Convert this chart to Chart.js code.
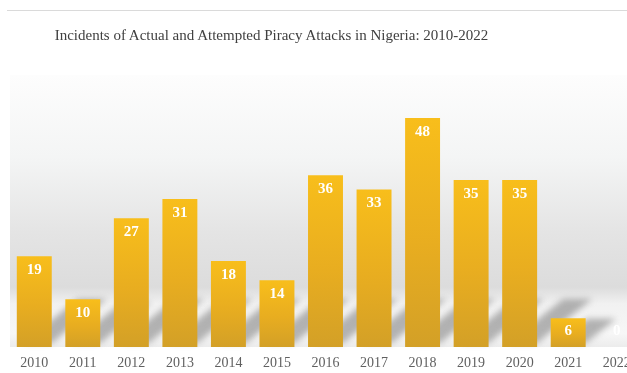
<!DOCTYPE html>
<html>
<head>
<meta charset="utf-8">
<script src="https://cdn.jsdelivr.net/npm/chart.js@4.4.1/dist/chart.umd.min.js"></script>
<style>
  html, body { margin: 0; padding: 0; background: #fff; overflow: hidden; }
  #wrap { position: relative; width: 627px; height: 373px; overflow: hidden; }
  #rule { position: absolute; left: 7px; right: 0; top: 10px; height: 1px; background: #dadada; }
  #title {
    position: absolute; left: 0; width: 543px; top: 27px; text-align: center;
    font-family: "Liberation Serif", "Times New Roman", serif; font-size: 15px; color: #404040;
    white-space: nowrap;
  }
  #box { position: absolute; left: 0; top: 0; width: 660px; height: 373px; }
</style>
</head>
<body>
<div id="wrap">
  <div id="box"><canvas id="chartPiracy" width="660" height="373"></canvas></div>
  <div id="rule"></div>
  <div id="title">Incidents of Actual and Attempted Piracy Attacks in Nigeria: 2010-2022</div>
</div>
<script>
// data
const YEARS = ["2010", "2011", "2012", "2013", "2014", "2015", "2016", "2017", "2018", "2019", "2020", "2021", "2022"];
const INCIDENTS = [19, 10, 27, 31, 18, 14, 36, 33, 48, 35, 35, 6, 0];

const SERIF = "'Liberation Serif', 'Times New Roman', serif";

// background of the plot: soft grey wall with a lighter floor band
const backdrop = {
  id: "backdrop",
  beforeDraw(chart) {
    const { ctx, chartArea: a } = chart;
    const g = ctx.createLinearGradient(0, a.top, 0, a.bottom);
    g.addColorStop(0, "#fdfdfd");
    g.addColorStop(0.3, "#f4f5f5");
    g.addColorStop(0.58, "#e4e4e4");
    g.addColorStop(0.78, "#dcdcdc");
    g.addColorStop(0.84, "#f1f1f1");
    g.addColorStop(0.95, "#f7f7f7");
    g.addColorStop(1, "#ececec");
    ctx.save();
    ctx.fillStyle = g;
    ctx.fillRect(a.left, a.top, a.right - a.left, a.bottom - a.top);
    ctx.restore();
  },
  beforeDatasetsDraw(chart) {
    // slanted shadows falling behind each bar
    const { ctx } = chart;
    const meta = chart.getDatasetMeta(0);
    ctx.save();
    ctx.filter = "blur(3px)";
    ctx.fillStyle = "rgba(110,110,110,0.5)";
    meta.data.forEach((bar) => {
      const h = bar.base - bar.y;
      if (h <= 0) return;
      const rise = Math.min(44, h * 0.85);
      const run = rise * 1.25;
      const left = bar.x - bar.width / 2;
      const right = bar.x + bar.width / 2;
      ctx.beginPath();
      ctx.moveTo(left + 6, bar.base - 4);
      ctx.lineTo(right, bar.base - 4);
      ctx.lineTo(right + run, bar.base - 4 - rise);
      ctx.lineTo(left + 6 + run, bar.base - 4 - rise);
      ctx.closePath();
      ctx.fill();
    });
    ctx.restore();
  },
};

// white value labels near the top of each bar
const valueLabels = {
  id: "valueLabels",
  afterDatasetsDraw(chart) {
    const { ctx } = chart;
    const meta = chart.getDatasetMeta(0);
    ctx.save();
    ctx.font = "bold 15px " + SERIF;
    ctx.fillStyle = "#ffffff";
    ctx.textAlign = "center";
    ctx.textBaseline = "middle";
    meta.data.forEach((bar, i) => {
      const y = Math.min(bar.y + 14, bar.base - 16);
      ctx.fillText(String(INCIDENTS[i]), bar.x, y);
    });
    ctx.restore();
  },
};

function barFill(context) {
  const chart = context.chart;
  if (!chart.chartArea || context.parsed == null) return "#eeb51d";
  const ys = chart.scales.y;
  const top = ys.getPixelForValue(context.parsed.y);
  const bottom = ys.getPixelForValue(0);
  if (bottom - top < 1) return "#eeb51d";
  const g = chart.ctx.createLinearGradient(0, top, 0, bottom);
  g.addColorStop(0, "#f8be1b");
  g.addColorStop(0.55, "#e8ad20");
  g.addColorStop(1, "#d3a027");
  return g;
}

new Chart(document.getElementById("chartPiracy"), {
  type: "bar",
  data: {
    labels: YEARS,
    datasets: [{
      label: "Incidents",
      data: INCIDENTS,
      backgroundColor: barFill,
      borderWidth: 0,
      barPercentage: 0.72,
      categoryPercentage: 1,
    }],
  },
  options: {
    responsive: false,
    animation: false,
    layout: { padding: { left: 10, right: 19, top: 75, bottom: 0 } },
    plugins: { legend: { display: false }, tooltip: { enabled: false }, title: { display: false } },
    scales: {
      x: {
        grid: { display: false, drawTicks: false },
        border: { display: false },
        ticks: { color: "#606060", font: { family: SERIF, size: 14 }, padding: 8, autoSkip: false, maxRotation: 0 },
        afterFit: (scale) => { scale.height = 26; },
      },
      y: { display: false, min: 0, max: 57 },
    },
  },
  plugins: [backdrop, valueLabels],
});
</script>
</body>
</html>
